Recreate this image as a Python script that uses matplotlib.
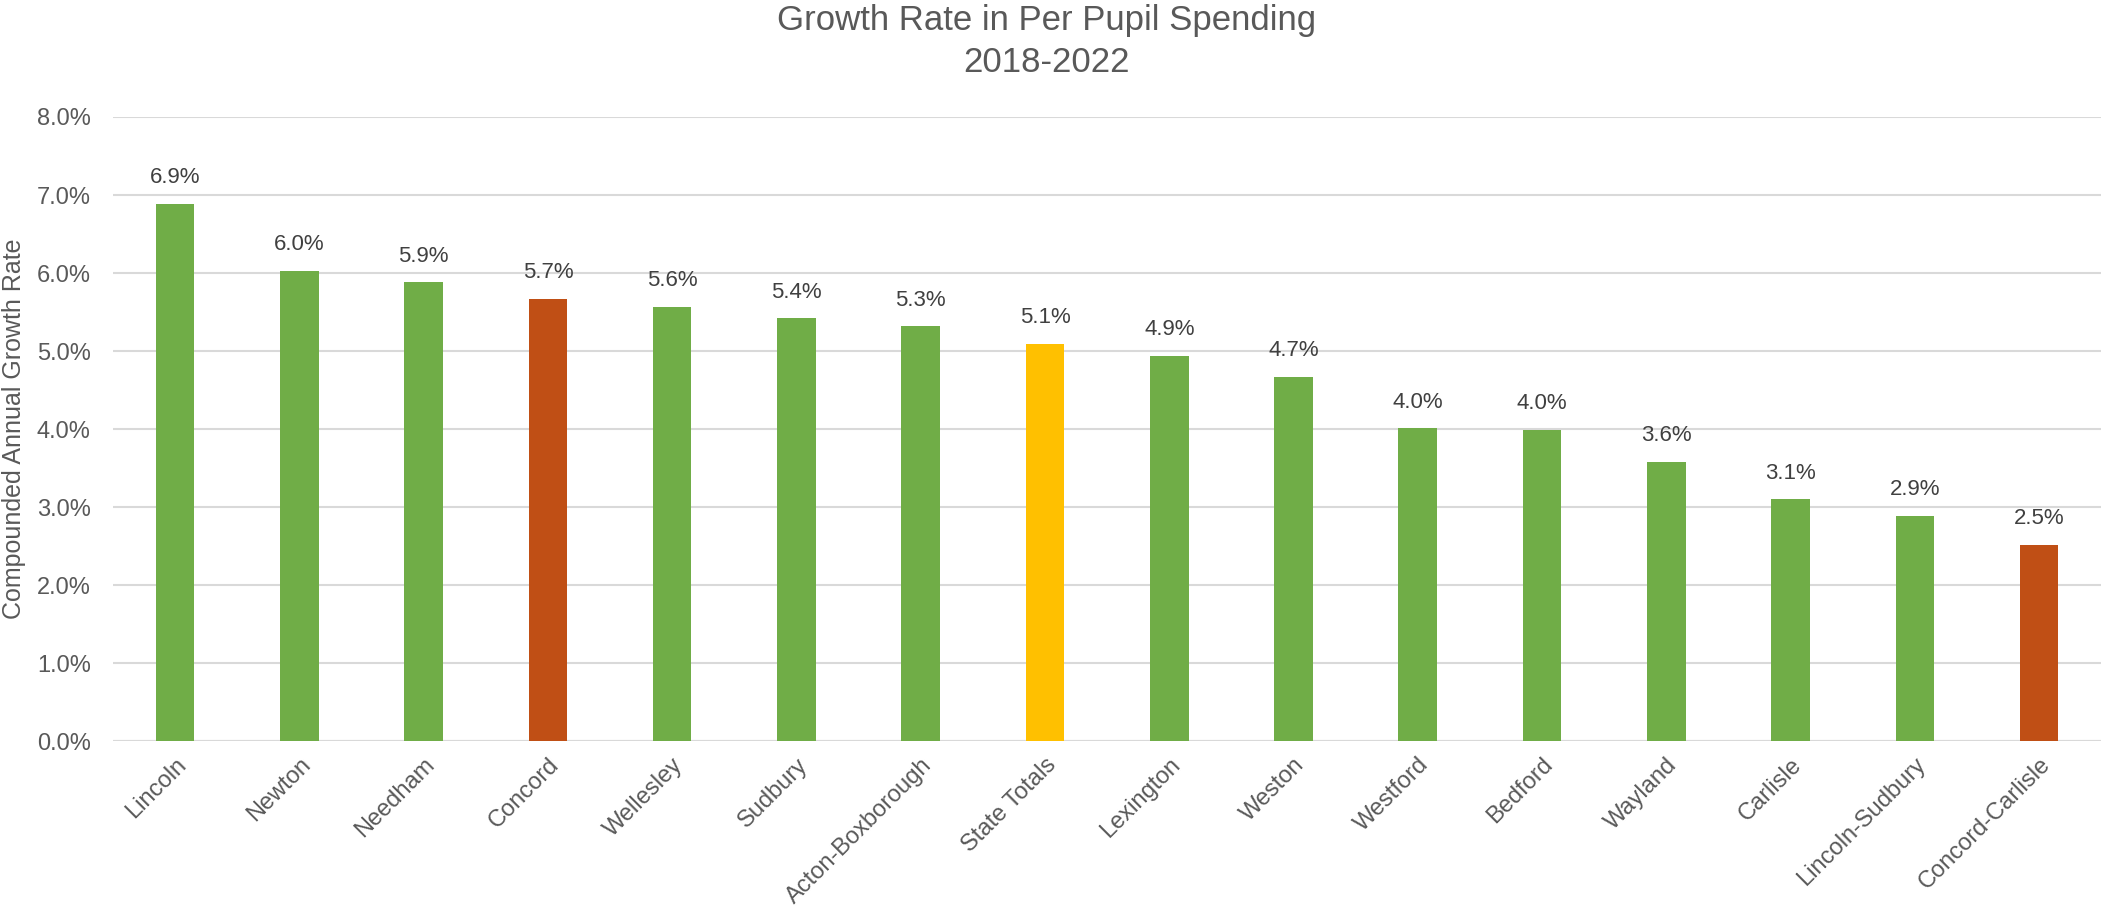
import numpy as np
import matplotlib.pyplot as plt
from matplotlib.ticker import PercentFormatter

# data
districts = ["Lincoln", "Newton", "Needham", "Concord", "Wellesley", "Sudbury",
             "Acton-Boxborough", "State Totals", "Lexington", "Weston", "Westford",
             "Bedford", "Wayland", "Carlisle", "Lincoln-Sudbury", "Concord-Carlisle"]
growth = [6.89, 6.03, 5.88, 5.67, 5.57, 5.42, 5.32, 5.09, 4.94, 4.67, 4.01,
          3.99, 3.58, 3.10, 2.89, 2.52]
highlight = ["green", "green", "green", "concord", "green", "green", "green", "state",
             "green", "green", "green", "green", "green", "green", "green", "concord"]

palette = {"green": "#70AD47", "concord": "#C04F15", "state": "#FFC000"}
text_col = "#595959"

plt.rcParams['font.family'] = ['Liberation Sans', 'DejaVu Sans']

fig = plt.figure(figsize=(21.06, 9.14), dpi=100)
ax = fig.add_axes([0.0537, 0.189, 0.944, 0.683])

x = np.arange(len(districts))
colors = [palette[h] for h in highlight]
ax.bar(x, growth, width=0.31, color=colors, zorder=3)

for xi, v in zip(x, growth):
    ax.text(xi, v + 0.2, f"{v:.1f}%", ha='center', va='bottom',
            fontsize=16, color="#404040")

ax.set_xlim(-0.5, len(districts) - 0.5)
ax.set_ylim(0, 8)
ax.set_yticks(np.arange(0, 9, 1))
ax.yaxis.set_major_formatter(PercentFormatter(decimals=1))
ax.grid(axis='y', color='#D9D9D9', linewidth=1.5, zorder=0)

for s in ax.spines.values():
    s.set_visible(False)
ax.axhline(0, color='#D9D9D9', linewidth=1.5, zorder=2)

ax.set_xticks(x)
ax.set_xticklabels(districts, rotation=45, ha='right', rotation_mode='anchor')
ax.tick_params(axis='both', length=0, labelsize=17, colors=text_col)
ax.tick_params(axis='x', pad=9)
ax.tick_params(axis='y', pad=16)

ax.set_ylabel("Compounded Annual Growth Rate", fontsize=18, color=text_col)
ax.yaxis.label.set_va('center')
ax.yaxis.set_label_coords(-0.0498, 0.5)

fig.text(0.497, 0.978, "Growth Rate in Per Pupil Spending", ha='center', va='center',
         fontsize=25, color=text_col)
fig.text(0.497, 0.932, "2018-2022", ha='center', va='center',
         fontsize=25, color=text_col)

fig.savefig("out.png", dpi=100)
